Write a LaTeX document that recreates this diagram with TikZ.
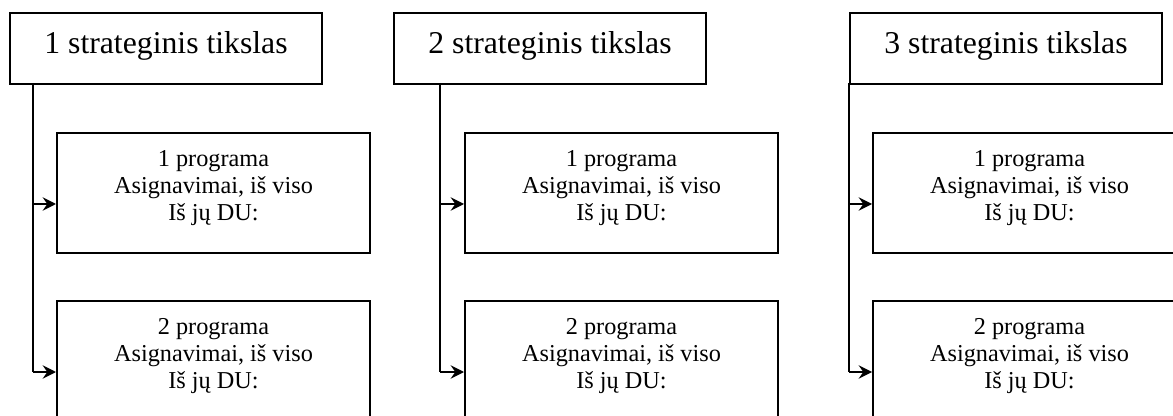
\documentclass[tikz,border=0pt]{standalone}
\usepackage{fontspec}
\setmainfont{Liberation Serif}
\usetikzlibrary{arrows.meta}
\begin{document}
\begin{tikzpicture}[x=0.75pt,y=-0.75pt,
  goal/.style={draw, line width=1.5pt, minimum width=234pt, minimum height=53.25pt,
    anchor=north west, inner sep=0pt, text height=12pt, text depth=3.75pt,
    font=\fontsize{23.8}{28}\selectfont},
  prog/.style={draw, line width=1.5pt, minimum width=234.75pt, minimum height=90pt,
    anchor=north west, inner sep=0pt},
  progtext/.style={anchor=north, inner sep=0pt, align=center,
    font=\fontsize{18.2}{20.25}\selectfont},
  conn/.style={line width=1pt},
  arr/.style={line width=1.5pt, -{Stealth[length=10pt,width=10pt,inset=3.5pt]}}]
\path[use as bounding box] (0,0) rectangle (1173,416);
\clip (0,0) rectangle (1173,416);
\foreach \i/\gx/\vx/\px in {1/9/33/56, 2/393/440/464, 3/849/849/872}{
  \node[goal] (g\i) at (\gx,12) {\i\ strateginis tikslas};
  \node[prog] (p\i a) at (\px,132) {};
  \node[prog] (p\i b) at (\px,300) {};
  \node[progtext] (t\i a) at ([yshift=-13.5pt]p\i a.north) {1 programa\\Asignavimai, iš viso\\Iš jų DU:};
  \node[progtext] (t\i b) at ([yshift=-13.5pt]p\i b.north) {2 programa\\Asignavimai, iš viso\\Iš jų DU:};
  \coordinate (v\i) at (\vx,83);
  \coordinate (a\i a) at ([yshift=-8.25pt]p\i a.west);
  \coordinate (a\i b) at ([yshift=-8.25pt]p\i b.west);
  \draw[conn] (v\i) -- (v\i |- a\i b);
  \draw[arr] (v\i |- a\i a) -- (a\i a);
  \draw[arr] (v\i |- a\i b) -- (a\i b);
}
\end{tikzpicture}
\end{document}
